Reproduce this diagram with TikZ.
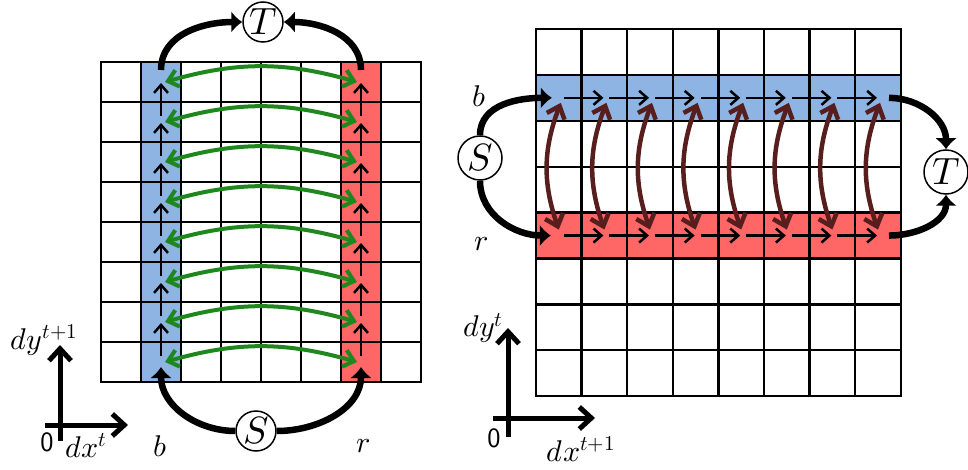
\documentclass[tikz,border=0pt]{standalone}
\usepackage{unicode-math}
\setmathfont{Latin Modern Math}
\usetikzlibrary{arrows.meta}
\definecolor{cblue}{RGB}{141,180,226}
\definecolor{cred}{RGB}{255,102,102}
\definecolor{cgreen}{RGB}{30,135,30}
\definecolor{cbrown}{RGB}{88,30,30}
\begin{document}
\begin{tikzpicture}[x=1pt,y=1pt,
  gridline/.style={line width=2.3pt, line cap=rect},
  thickconn/.style={line width=6.5pt, -{Latex[length=11pt,width=22pt]}},
  dasharrow/.style={line width=2.5pt, -{Straight Barb[length=8pt,width=14pt]}},
  greenarrow/.style={cgreen, line width=4pt, {Straight Barb[length=10pt,width=17pt]}-{Straight Barb[length=10pt,width=17pt]}},
  brownarrow/.style={cbrown, line width=4.5pt, {Straight Barb[length=11pt,width=19pt]}-{Straight Barb[length=11pt,width=19pt]}},
  axisarrow/.style={line width=5pt, -{Straight Barb[length=12pt,width=22pt]}},
  circ/.style={circle, draw, line width=1.5pt, fill=white, inner sep=0pt, font=\fontsize{38}{44}\selectfont},
  lab/.style={inner sep=0pt, font=\fontsize{30}{34}\selectfont},
  zero/.style={inner sep=0pt, font=\fontsize{28}{32}\selectfont\sffamily}
]
\useasboundingbox (0,0) rectangle (968,-470);

% ---------------- left grid ----------------
\fill[cblue] (141,-62) rectangle (181,-382);
\fill[cred] (341,-62) rectangle (381,-382);
\foreach \i in {0,...,8}{
  \draw[gridline] (101+40*\i,-62) -- (101+40*\i,-382);
  \draw[gridline] (101,-62-40*\i) -- (421,-62-40*\i);
}
\foreach \i in {1,...,8}{
  \coordinate (lb\i) at (161,-62-40*\i+20);
  \coordinate (lr\i) at (361,-62-40*\i+20);
}
\foreach \i [evaluate=\i as \k using int(\i+1)] in {1,...,7}{
  \draw[dasharrow] ([yshift=6pt]lb\k) -- ([yshift=-1pt]lb\i);
  \draw[dasharrow] ([yshift=6pt]lr\k) -- ([yshift=-1pt]lr\i);
}
\foreach \i in {1,...,8}{
  \draw[greenarrow] ([xshift=4pt]lb\i) to[bend left=16] ([xshift=-4pt]lr\i);
}
\node[circ, minimum size=40pt] (T1) at (263,-22) {$T$};
\node[circ, minimum size=40pt] (S1) at (256,-431) {$S$};
\draw[thickconn] ([yshift=12pt]lb1) to[out=90,in=180] (T1.west);
\draw[thickconn] ([yshift=12pt]lr1) to[out=90,in=0] (T1.east);
\draw[thickconn] (S1.west) to[out=180,in=-90] ([yshift=-5pt]lb8);
\draw[thickconn] (S1.east) to[out=0,in=-90] ([yshift=-5pt]lr8);
\node[lab] (bl) at (160,-446) {$b$};
\node[lab] (rl) at (363,-446) {$r$};

% left axes
\coordinate (ly0) at (60,-441);
\coordinate (ly1) at (60,-345);
\coordinate (lx0) at (45,-425);
\coordinate (lx1) at (128,-425);
\draw[axisarrow] (ly0) -- (ly1);
\draw[axisarrow] (lx0) -- (lx1);
\node[zero] (lz) at (47,-442) {0};
\node[lab] (ldx) at (86,-446) {$dx^{t}$};
\node[lab] (ldy) at (44,-340) {$dy^{t+1}$};

% ---------------- right grid ----------------
\fill[cblue] (536,-74.9) rectangle (900.8,-120.8);
\fill[cred] (536,-212.6) rectangle (900.8,-258.5);
\foreach \i in {0,...,8}{
  \draw[gridline] ({536+45.6*\i},-29) -- ({536+45.6*\i},-396.2);
  \draw[gridline] (536,{-29-45.9*\i}) -- (900.8,{-29-45.9*\i});
}
\foreach \j in {1,...,8}{
  \coordinate (rb\j) at ({536+45.6*\j-22.8},-97.85);
  \coordinate (rr\j) at ({536+45.6*\j-22.8},-235.55);
}
\foreach \j [evaluate=\j as \k using int(\j+1)] in {1,...,7}{
  \draw[dasharrow] ([xshift=5pt]rb\j) -- ([xshift=-1pt]rb\k);
  \draw[dasharrow] ([xshift=5pt]rr\j) -- ([xshift=-1pt]rr\k);
}
\foreach \j in {1,...,8}{
  \draw[brownarrow] ([shift={(2pt,-5pt)}]rb\j) to[bend right=20] ([yshift=6pt]rr\j);
}
\node[circ, minimum size=44pt] (S2) at (480,-158) {$S$};
\node[circ, minimum size=44pt] (T2) at (946,-172) {$T$};
\draw[thickconn] (S2.north) to[out=90,in=180] ([xshift=-7pt]rb1);
\draw[thickconn] (S2.south) to[out=-90,in=180] ([xshift=-8pt]rr1);
\draw[thickconn] ([xshift=11pt]rb8) to[out=0,in=90] (T2.north);
\draw[thickconn] ([xshift=11pt]rr8) to[out=0,in=-90] (T2.south);
\node[lab] (br) at (479,-96) {$b$};
\node[lab] (rr) at (481,-244) {$r$};

% right axes
\coordinate (ry0) at (508,-437);
\coordinate (ry1) at (508,-328);
\coordinate (rx0) at (493,-418);
\coordinate (rx1) at (595,-418);
\draw[axisarrow] (ry0) -- (ry1);
\draw[axisarrow] (rx0) -- (rx1);
\node[zero] (rz) at (494,-438) {0};
\node[lab] (rdy) at (483,-328) {$dy^{t}$};
\node[lab] (rdx) at (581,-449) {$dx^{t+1}$};
\end{tikzpicture}
\end{document}
